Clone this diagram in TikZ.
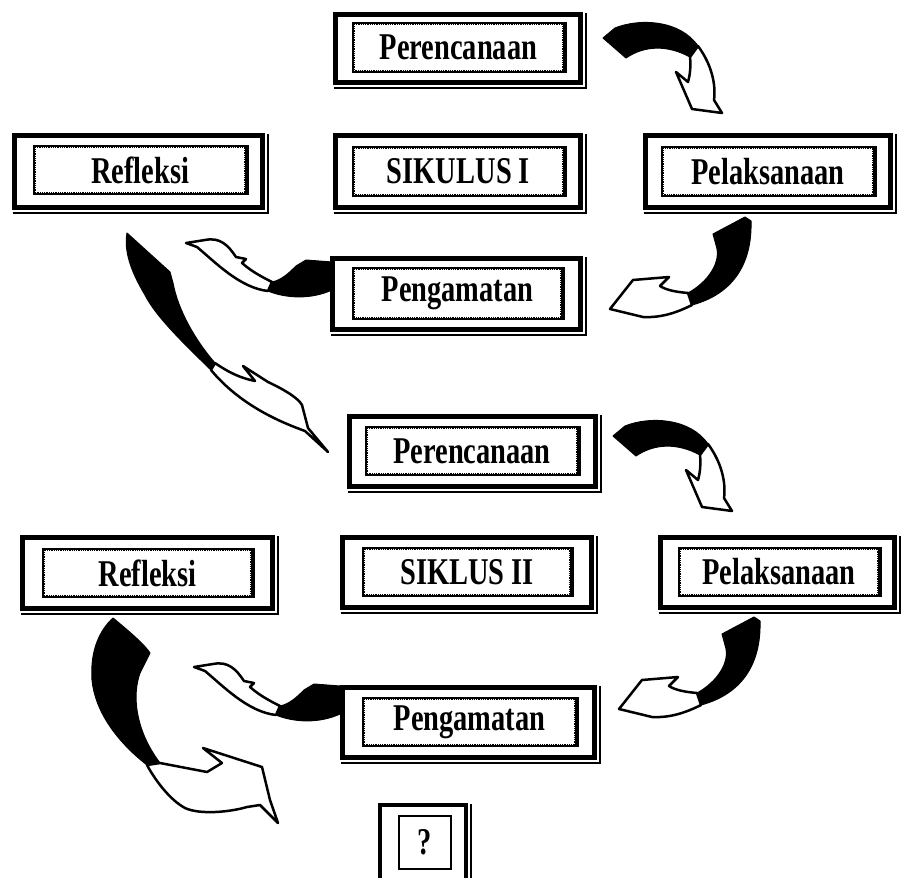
\documentclass[tikz,border=0pt]{standalone}
\usepackage{fontspec}
\setmainfont{Liberation Serif}
\usepackage{graphicx}
\newcommand{\boxtxt}[1]{\scalebox{0.79}[1.05]{\fontsize{36}{40}\selectfont\bfseries #1}}
\begin{document}
\begin{tikzpicture}[x=1pt,y=-1pt,
  outerbox/.style={draw, line width=4.5pt, inner sep=0pt},
  innerbox/.style={draw, line width=1.5pt, inner sep=0pt},
  blk/.style={fill=black, draw=black, line width=1pt, line join=round},
  wht/.style={fill=white, draw=black, line width=2.5pt, line join=round}]
\useasboundingbox (0,0) rectangle (903,878);
\clip (0,0) rectangle (903,878);

% ---------- curved block arrows ----------
% clockwise arrow (Perencanaan -> Pelaksanaan), cycle I and II
\foreach \sx/\sy in {0/0, 10/398}{
\begin{scope}[shift={(\sx,\sy)}]
\path[blk] (603,38) -- (615,28) .. controls (640,18) and (680,20) .. (698,46) -- (690,57)
  .. controls (668,45) and (645,45) .. (626,58) -- cycle;
\path[wht] (698,46) .. controls (712,65) and (716,85) .. (714,100) -- (722,113) -- (692,109)
  -- (676,72) -- (688,82) .. controls (690,75) and (691,66) .. (690,57) -- cycle;
\end{scope}}
% arrow Pelaksanaan -> Pengamatan
\foreach \sx/\sy in {0/0, 9/400}{
\begin{scope}[shift={(\sx,\sy)}]
\path[blk] (713,234) -- (745,217) -- (751,221) .. controls (752,255) and (740,292) .. (692,305)
  -- (688,293) .. controls (708,282) and (722,262) .. (716,245) -- cycle;
\path[wht] (688,293) .. controls (676,292) and (666,290) .. (660,286) -- (669,277) -- (633,280)
  -- (610,309) -- (643,317) .. controls (662,318) and (678,312) .. (692,305) -- cycle;
\end{scope}}
% arrow Pengamatan -> Refleksi
\foreach \sx/\sy in {0/0, 8/424}{
\begin{scope}[shift={(\sx,\sy)}]
\path[blk] (332,262) -- (332,290) .. controls (310,300) and (285,298) .. (268,291)
  -- (272,282) .. controls (282,280) and (290,272) .. (296,266) -- (306,260) -- cycle;
\path[wht] (272,282) .. controls (258,275) and (250,270) .. (242,263) -- (246,259) -- (236,257)
  .. controls (228,245) and (220,237) .. (205,240) -- (186,243) -- (197,247)
  .. controls (215,262) and (240,288) .. (268,291) -- cycle;
\end{scope}}
% long arrow Refleksi I -> Perencanaan II
\path[blk] (127,233) -- (170,272) -- (173,283) .. controls (178,310) and (195,340) .. (215,363)
  -- (211,370) .. controls (180,340) and (155,315) .. (145,295)
  .. controls (130,270) and (124,250) .. (127,233) -- cycle;
\path[wht] (215,363) .. controls (228,372) and (240,378) .. (255,381) -- (243,366)
  -- (268,382) .. controls (285,390) and (298,398) .. (302,405) -- (308,428) -- (328,452)
  -- (305,431) .. controls (280,422) and (240,405) .. (211,370) -- cycle;
% arrow Refleksi II -> ?
\path[blk] (113,618) .. controls (130,632) and (145,645) .. (150,653) -- (140,673)
  .. controls (132,695) and (135,730) .. (160,763) -- (147,765)
  .. controls (115,740) and (95,710) .. (92,680) .. controls (90,650) and (100,630) .. (113,618) -- cycle;
\path[wht] (160,763) -- (207,772) -- (222,763) -- (203,748) -- (262,767) -- (270,800) -- (278,823)
  -- (260,805) -- (247,807) .. controls (230,812) and (200,815) .. (185,808)
  .. controls (170,800) and (155,780) .. (147,765) -- cycle;

% ---------- boxes ----------
\node[outerbox, minimum width=245, minimum height=68] (per1) at (458,48.5) {};
\node[innerbox, minimum width=211, minimum height=49] (per1i) at (458.5,47.5) {\boxtxt{Perencanaan}};

\node[outerbox, minimum width=248, minimum height=72] (ref1) at (138.5,171.5) {};
\node[innerbox, minimum width=212, minimum height=48] (ref1i) at (140,170) {\boxtxt{Refleksi}};

\node[outerbox, minimum width=245, minimum height=72] (sik1) at (458,171.5) {};
\node[innerbox, minimum width=211, minimum height=49] (sik1i) at (458.5,171.5) {\boxtxt{SIKULUS I}};

\node[outerbox, minimum width=245, minimum height=72] (pel1) at (768,171.5) {};
\node[innerbox, minimum width=212, minimum height=49] (pel1i) at (768,171.5) {\boxtxt{Pelaksanaan}};

\node[outerbox, minimum width=248, minimum height=71] (pen1) at (456.5,294) {};
\node[innerbox, minimum width=209, minimum height=51] (pen1i) at (457.5,293.5) {\boxtxt{Pengamatan}};

\node[outerbox, minimum width=246, minimum height=70] (per2) at (472.5,451.5) {};
\node[innerbox, minimum width=212, minimum height=48] (per2i) at (472,451) {\boxtxt{Perencanaan}};

\node[outerbox, minimum width=249, minimum height=70] (sik2) at (467,572.5) {};
\node[innerbox, minimum width=208, minimum height=48] (sik2i) at (467,572) {\boxtxt{SIKLUS II}};

\node[outerbox, minimum width=234, minimum height=70] (pel2) at (777.5,572.5) {};
\node[innerbox, minimum width=200, minimum height=48] (pel2i) at (779,572) {\boxtxt{Pelaksanaan}};

\node[outerbox, minimum width=250, minimum height=71] (ref2) at (147.5,573) {};
\node[innerbox, minimum width=209, minimum height=48] (ref2i) at (147.5,573) {\boxtxt{Refleksi}};

\node[outerbox, minimum width=252, minimum height=70] (pen2) at (468.5,722.5) {};
\node[innerbox, minimum width=213, minimum height=48] (pen2i) at (469.5,722) {\boxtxt{Pengamatan}};

\node[outerbox, minimum width=86, minimum height=80] (q) at (423,845) {};
\node[innerbox, line width=2.5pt, minimum width=52, minimum height=53] (qi) at (425,842.5) {\boxtxt{?}};

% shadows of the outer frames
\foreach \n in {per1,ref1,sik1,pel1,pen1,per2,sik2,pel2,ref2,pen2,q}{
  \draw[line width=1.8pt] ([shift={(1pt,-3pt)}]\n.south west) -- ([shift={(3pt,-3pt)}]\n.south east)
    -- ([shift={(3pt,-1pt)}]\n.north east);
}
% stippled inner frames
\foreach \n in {per1i,ref1i,sik1i,pel1i,pen1i,per2i,sik2i,pel2i,ref2i,pen2i}{
  \draw[line width=1.3pt, dash pattern=on 0.9pt off 0.9pt]
    ([shift={(2pt,-2pt)}]\n.north west) rectangle ([shift={(-2pt,2pt)}]\n.south east);
  \draw[line width=1.5pt] ([shift={(1pt,0pt)}]\n.north east) -- ([shift={(1pt,0pt)}]\n.south east);
}
\end{tikzpicture}
\end{document}
